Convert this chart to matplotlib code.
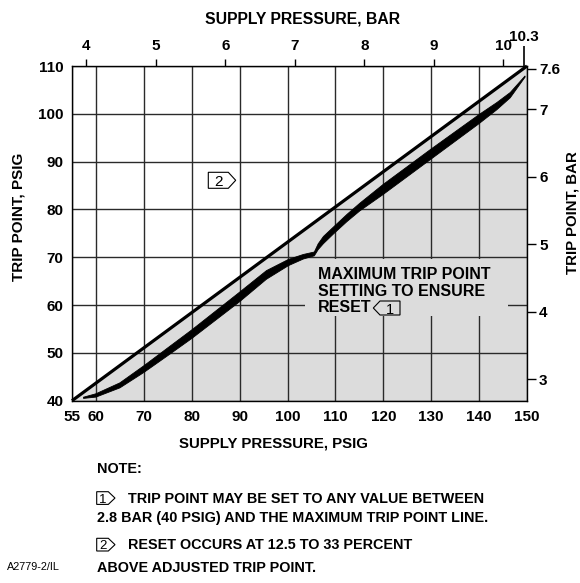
import matplotlib
matplotlib.use('Agg')
import matplotlib.pyplot as plt
from matplotlib.patches import Polygon, Rectangle
from matplotlib.transforms import Affine2D

PSI_PER_BAR = 14.5038

# ---------------- data ----------------
# straight "reset" line (psig)
line_x = [55, 150]
line_y = [40, 110]

# thick "maximum trip point" band (psig)
band_x = [57.4, 60, 65, 70, 75.5, 80, 85, 90, 95.6, 100.2, 103.3, 105.6, 106.4,
          107.5, 109.6, 112.4, 115.1, 120, 130, 140, 143.7, 146.5, 149.6]
band_upper = [40.73, 41.45, 43.73, 47.3, 51.43, 54.8, 58.75, 62.7, 67.2, 69.55, 70.58,
              71.1, 72.8, 74.35, 76.33, 78.95, 81.3, 85.25, 92.65, 99.85, 102.35, 104.45, 107.93]
band_lower = [40.48, 40.75, 42.68, 45.9, 49.78, 53.0, 56.85, 60.7, 65.4, 68.25, 69.63,
              70.3, 71.6, 72.85, 74.88, 77.45, 79.7, 83.15, 90.55, 97.95, 100.85, 103.35, 107.68]

psig_x_ticks = [55, 60, 70, 80, 90, 100, 110, 120, 130, 140, 150]
psig_y_ticks = [40, 50, 60, 70, 80, 90, 100, 110]
bar_x_ticks = [4, 5, 6, 7, 8, 9, 10]
bar_x_end = [10.3]
bar_y_ticks = [3, 4, 5, 6, 7, 7.6]
bar_y_labels = ['3', '4', '5', '6', '7', '7.6']

title_top = 'SUPPLY PRESSURE, BAR'
xlabel = 'SUPPLY PRESSURE, PSIG'
ylabel_left = 'TRIP POINT, PSIG'
ylabel_right = 'TRIP POINT, BAR'
annot_lines = ['MAXIMUM TRIP POINT', 'SETTING TO ENSURE', 'RESET']
note_head = 'NOTE:'
note1 = ['TRIP POINT MAY BE SET TO ANY VALUE BETWEEN',
         '2.8 BAR (40 PSIG) AND THE MAXIMUM TRIP POINT LINE.']
note2 = ['RESET OCCURS AT 12.5 TO 33 PERCENT', 'ABOVE ADJUSTED TRIP POINT.']
fig_id = 'A2779-2/IL'

# ---------------- style ----------------
plt.rcParams['font.family'] = ['Liberation Sans', 'DejaVu Sans']
plt.rcParams['font.weight'] = 'bold'
plt.rcParams['font.size'] = 11

W, H = 580, 583
GREY = '#dcdcdc'
GRID = '#2a2a2a'

fig = plt.figure(figsize=(W / 100, H / 100), dpi=100)
L, T, R, B = 72, 66, 527, 400.7
ax = fig.add_axes([L / W, 1 - B / H, (R - L) / W, (B - T) / H])
px = Affine2D().scale(1 / W, -1 / H).translate(0, 1) + fig.transFigure


def ftext(x, y, s, **kw):
    return fig.text(x / W, 1 - y / H, s, **kw)


ax.set_xlim(55, 150)
ax.set_ylim(40, 110)
ax.set_xticks(psig_x_ticks)
ax.set_yticks(psig_y_ticks)
ax.tick_params(axis='both', length=0, labelsize=11)
ax.tick_params(axis='x', pad=6.5)
ax.tick_params(axis='y', pad=6.0)
ax.set_axisbelow(True)
ax.grid(True, color=GRID, lw=1.0)
for s in ax.spines.values():
    s.set_linewidth(1.0)
    s.set_color('black')

# shaded region below reset line
ax.fill_between(line_x, line_y, 40, color=GREY, lw=0, zorder=0.3)
# box behind annotation (hides grid)
ax.add_patch(Rectangle((103.65, 57.72), 42.35, 12.0, fc=GREY, ec='none', zorder=0.8))
# max trip point band
ax.fill(band_x + band_x[::-1], band_upper + band_lower[::-1],
        color='black', lw=0.6, zorder=2)
# reset line
ax.plot(line_x, line_y, color='black', lw=2.3, solid_capstyle='butt',
        clip_on=False, zorder=3)

# top (bar) axis
axt = ax.twiny()
axt.set_xlim(55 / PSI_PER_BAR, 150 / PSI_PER_BAR)
axt.set_xticks(bar_x_ticks)
axt.set_xticks(bar_x_end, labels=['10.3'], minor=True)
axt.tick_params(axis='x', which='major', length=5, width=1.0, pad=4, labelsize=11)
axt.tick_params(axis='x', which='minor', length=14.4, width=1.2, pad=1.5, labelsize=11)
for s in axt.spines.values():
    s.set_visible(False)

# right (bar) axis
axr = ax.twinx()
axr.set_ylim(2.686, 7.638)
axr.set_yticks(bar_y_ticks, labels=bar_y_labels)
axr.tick_params(axis='y', length=6.3, width=1.0, pad=2.4, labelsize=11)
for s in axr.spines.values():
    s.set_visible(False)

# axis titles
ftext(302.5, 24, title_top, ha='center', va='baseline', fontsize=11.3)
ftext(273, 443, xlabel, ha='center', va='center', fontsize=10.8)
ftext(19, 217, ylabel_left, ha='center', va='center', rotation=90, fontsize=11)
ftext(572.5, 213, ylabel_right, ha='center', va='center', rotation=90, fontsize=10.8)


def tag(x0, y0, w, h, tip, label, point='right', fs=10, face='white'):
    if point == 'right':
        verts = [(x0, y0), (x0 + w - tip, y0), (x0 + w, y0 + h / 2),
                 (x0 + w - tip, y0 + h), (x0, y0 + h)]
        tx = x0 + (w - tip) / 2 + 0.5
    else:
        verts = [(x0 + w, y0), (x0 + tip, y0), (x0, y0 + h / 2),
                 (x0 + tip, y0 + h), (x0 + w, y0 + h)]
        tx = x0 + tip + (w - tip) / 2
    fig.add_artist(Polygon(verts, closed=True, transform=px, fc=face,
                           ec='black', lw=0.8))
    ftext(tx, y0 + h / 2, label, ha='center', va='center_baseline',
          fontweight='normal', fontsize=fs)


# annotation in plot
for i, s in enumerate(annot_lines):
    ftext(318.3, 279 + i * 16.65, s, ha='left', va='baseline', fontsize=11.5)
tag(373.3, 301, 26.7, 14, 6.7, '1', point='left', fs=10.5, face='none')
tag(208.3, 172.3, 27.4, 16, 7.4, '2', point='right', fs=11)

# notes
NFS = 10.4
ftext(96.7, 473.3, note_head, ha='left', va='baseline', fontsize=NFS)
tag(96.7, 491.7, 18.3, 12.7, 6.7, '1', fs=9.5)
ftext(128.3, 502.7, note1[0], ha='left', va='baseline', fontsize=NFS)
ftext(96.7, 521.7, note1[1], ha='left', va='baseline', fontsize=NFS)
tag(96.7, 538.3, 18.3, 12.7, 6.7, '2', fs=9.5)
ftext(128.3, 549.3, note2[0], ha='left', va='baseline', fontsize=NFS)
ftext(96.7, 571.7, note2[1], ha='left', va='baseline', fontsize=NFS)
ftext(6.7, 570, fig_id, ha='left', va='baseline', fontsize=7.8, fontweight='normal')

fig.savefig('out.png', dpi=100)
